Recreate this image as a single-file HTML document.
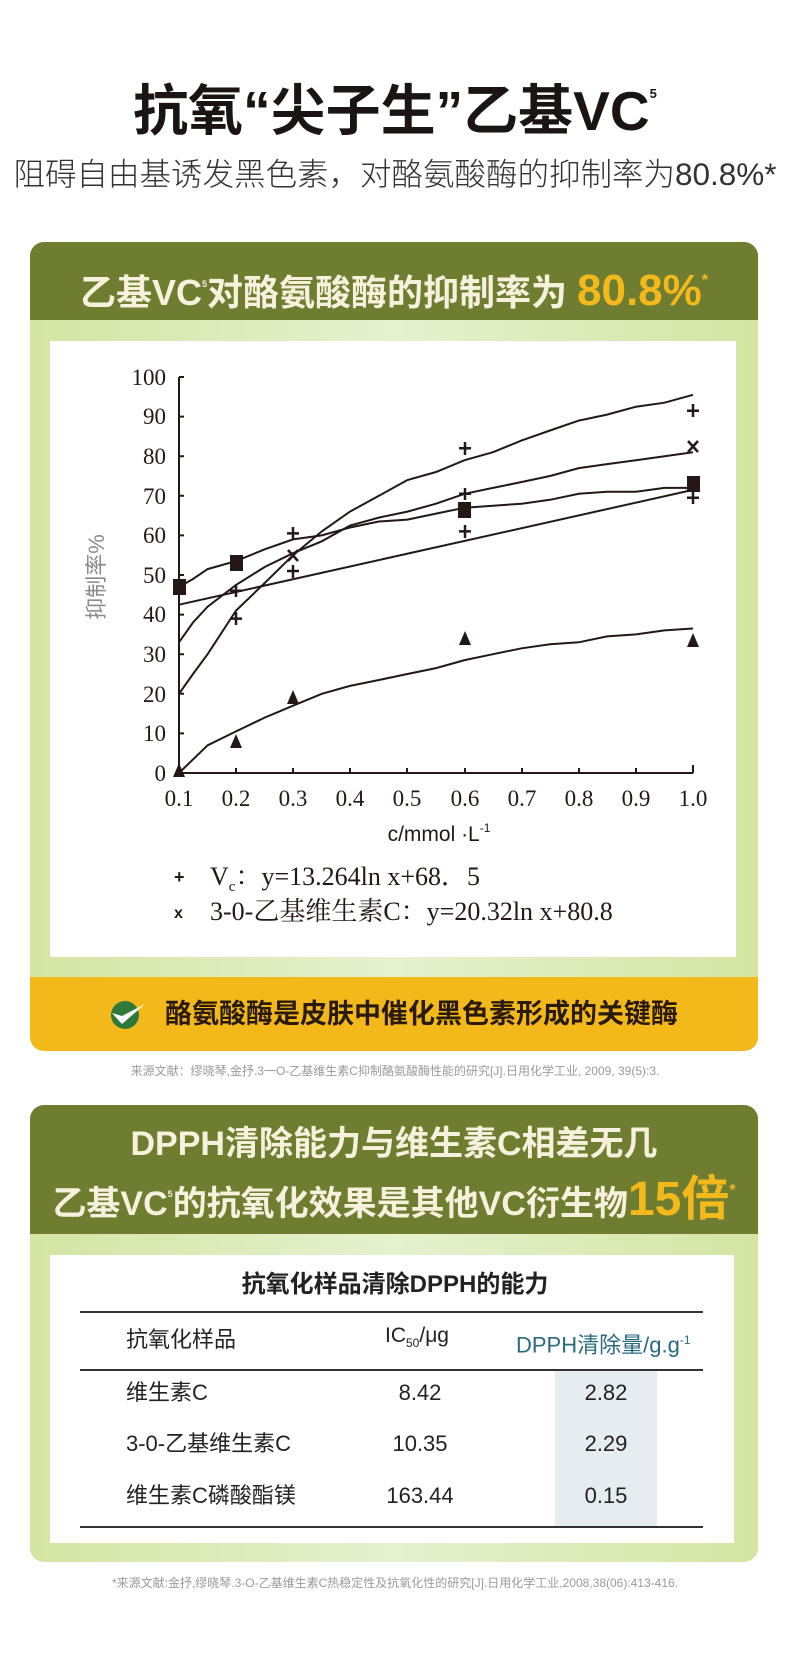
<!DOCTYPE html>
<html><head><meta charset="utf-8">
<style>
*{margin:0;padding:0;box-sizing:border-box}
body{width:790px;height:1665px;background:#fff;position:relative;overflow:hidden;font-family:"Liberation Sans","Noto Sans CJK SC",sans-serif}
.abs{position:absolute}
.c{left:0;width:790px;text-align:center;white-space:nowrap}
</style></head><body>
<div class="abs c" style="top:62px;font-size:55px;font-weight:bold;color:#1a1512;line-height:64px">抗氧“尖子生”乙基VC<sup style="font-size:13px;vertical-align:32px">5</sup></div>
<div class="abs c" style="top:154px;font-size:31.5px;color:#333;line-height:40px;font-weight:300">阻碍自由基诱发黑色素，对酪氨酸酶的抑制率为80.8%*</div>

<!-- box 1 -->
<div class="abs" style="left:30px;top:242px;width:728px;height:809px;border-radius:14px;overflow:hidden;background:linear-gradient(90deg,#d4e5a3,#e6f1cf 50%,#d4e5a3)">
 <div style="height:78px;background:#6f7d31;text-align:center;line-height:78px;color:#f6f0dc;font-size:36px;font-weight:bold;white-space:nowrap">乙基VC<sup style="font-size:9px;vertical-align:18px">5</sup>对酪氨酸酶的抑制率为 <span style="color:#f3b91c;font-size:44px">80.8%</span><sup style="color:#f3b91c;font-size:16px;vertical-align:20px">*</sup></div>
 <div class="abs" style="left:0;top:735px;width:728px;height:74px;background:#f3b91b"></div>
</div>
<div class="abs" style="left:50px;top:341px;width:686px;height:616px;background:#fff"></div>
<svg class="abs" style="left:0;top:0" width="790" height="1100" viewBox="0 0 790 1100">
 <g fill="none" stroke="#231815" stroke-width="2">
  <polyline points="179,377 179,773 693,773"/>
  <path d="M179,377h5M179,416.6h5M179,456.2h5M179,495.8h5M179,535.4h5M179,575h5M179,614.6h5M179,654.2h5M179,693.8h5M179,733.4h5M236,773v-5M293,773v-5M350,773v-5M407,773v-5M465,773v-5M522,773v-5M579,773v-5M636,773v-5M693,773v-8"/>
  <polyline points="179,693.8 193,674 207.6,654.2 236,610.6 264.7,583 293,555.2 321.8,531.4 350,511.6 378.9,495.8 407.4,480 436,472 464.6,460.2 493,452.2 521.7,440.4 550,430.5 578.8,420.6 607,414.6 636,406.7 664.5,402.7 693,394.8"/>
  <polyline points="179,642.3 193,622.5 207.6,606.7 236,584.9 264.7,567 293,553.2 321.8,541.3 350,525.5 378.9,517.6 407.4,511.6 436,503.7 464.6,493.8 493,487.9 521.7,482 550,476 578.8,468.1 607,464.1 636,460.2 664.5,456.2 693,452.2"/>
  <polyline points="179,586.9 193,579 207.6,569.1 236,561.1 264.7,549.3 293,539.4 321.8,535.4 350,527.5 378.9,521.5 407.4,519.6 436,513.6 464.6,507.7 493,505.7 521.7,503.7 550,499.8 578.8,493.8 607,491.8 636,491.8 664.5,487.9 693,487.9"/>
  <line x1="179" y1="604.7" x2="693" y2="489.9"/>
  <polyline points="179,773 207.6,745.3 236,731.4 264.7,717.6 293,705.7 321.8,693.8 350,685.9 378.9,680 407.4,674 436,668.1 464.6,660.1 493,654.2 521.7,648.3 550,644.3 578.8,642.3 607,636.4 636,634.4 664.5,630.4 693,628.5"/>
 </g>
 <g stroke="#231815" stroke-width="2.5">
  <path d="M293,527v13M287,533.4h12 M293,565v13M287,571h12 M236,585v12M230,590.8h12 M236,612v13M230,618.6h12 M465,442v13M459,448.3h12 M465,488v12M459,493.8h12 M465,525v13M459,531.4h12 M693,404v13M687,410.7h12 M693,492v12M687,497.8h12"/>
  <path d="M288,550l10,11M298,550l-10,11 M688,441l10,11M698,441l-10,11"/>
 </g>
 <g fill="#231815">
  <rect x="173" y="579" width="13" height="16"/><rect x="230" y="555" width="13" height="16"/><rect x="458" y="502" width="13" height="16"/><rect x="687" y="476" width="13" height="16"/>
  <path d="M179,763l-6,14h12z M236,734l-6,14h12z M293,690l-6,14h12z M465,631l-6,14h12z M693,633l-6,14h12z"/>
 </g>
 <g font-family="Liberation Serif,serif" font-size="23" fill="#231815" text-anchor="end">
  <text x="166" y="385">100</text><text x="166" y="424">90</text><text x="166" y="464">80</text><text x="166" y="504">70</text><text x="166" y="543">60</text><text x="166" y="583">50</text><text x="166" y="622">40</text><text x="166" y="662">30</text><text x="166" y="702">20</text><text x="166" y="741">10</text><text x="166" y="781">0</text>
 </g>
 <g font-family="Liberation Serif,serif" font-size="23" fill="#231815" text-anchor="middle">
  <text x="179" y="806">0.1</text><text x="236" y="806">0.2</text><text x="293" y="806">0.3</text><text x="350" y="806">0.4</text><text x="407" y="806">0.5</text><text x="465" y="806">0.6</text><text x="522" y="806">0.7</text><text x="579" y="806">0.8</text><text x="636" y="806">0.9</text><text x="693" y="806">1.0</text>
 </g>
 <text x="439" y="841" text-anchor="middle" font-family="Liberation Sans,sans-serif" font-size="21" fill="#231815">c/mmol ·L<tspan font-size="12" dy="-9">-1</tspan></text>
 <text transform="translate(104,577) rotate(-90)" text-anchor="middle" font-family="Liberation Sans,'Noto Sans CJK SC',sans-serif" font-size="22" fill="#8a8a8a">抑制率%</text>
 <g font-family="Liberation Serif,'Noto Serif CJK SC',serif" font-size="26" fill="#231815">
  <text x="174" y="883" font-family="Liberation Sans,sans-serif" font-weight="bold" font-size="18">+</text>
  <text x="210" y="885">V<tspan font-size="15" dy="6">c</tspan><tspan dy="-6">：y=13.264ln x+68．5</tspan></text>
  <text x="174" y="918" font-family="Liberation Sans,sans-serif" font-weight="bold" font-size="16">x</text>
  <text x="210" y="920">3-0-乙基维生素C：y=20.32ln x+80.8</text>
 </g>
 <circle cx="125" cy="1015" r="14" fill="#2f7a3a"/>
 <path d="M112,1013l10,11l23,-20l-23,12z" fill="#fff"/>
</svg>
<div class="abs" style="left:165px;top:996px;font-size:27px;font-weight:bold;color:#2a1a0a;line-height:36px;white-space:nowrap">酪氨酸酶是皮肤中催化黑色素形成的关键酶</div>
<div class="abs c" style="top:1063px;font-size:12px;color:#9a9a9a;line-height:16px">来源文献：缪晓琴,金抒.3一O-乙基维生素C抑制酪氨酸酶性能的研究[J].日用化学工业, 2009, 39(5):3.</div>

<!-- box 2 -->
<div class="abs" style="left:30px;top:1105px;width:728px;height:457px;border-radius:14px;overflow:hidden;background:linear-gradient(90deg,#d4e5a3,#e6f1cf 50%,#d4e5a3)">
 <div style="height:129px;background:#6f7d31;text-align:center;color:#f6f0dc;font-size:34px;font-weight:bold;white-space:nowrap">
  <div style="padding-top:18px;line-height:42px">DPPH清除能力与维生素C相差无几</div>
  <div style="line-height:52px">乙基VC<sup style="font-size:9px;vertical-align:18px">5</sup>的抗氧化效果是其他VC衍生物<span style="color:#f3b91c;font-size:48px">15倍</span><sup style="color:#f3b91c;font-size:16px;vertical-align:20px">*</sup></div>
 </div>
</div>
<div class="abs" style="left:50px;top:1255px;width:684px;height:288px;background:#fff"></div>
<div class="abs c" style="top:1270px;font-size:24px;font-weight:bold;color:#222;line-height:30px">抗氧化样品清除DPPH的能力</div>
<div class="abs" style="left:555px;top:1370px;width:102px;height:157px;background:#e6edf0"></div>
<div class="abs" style="left:80px;top:1311px;width:623px;height:2px;background:#333"></div>
<div class="abs" style="left:80px;top:1369px;width:623px;height:2px;background:#333"></div>
<div class="abs" style="left:80px;top:1526px;width:623px;height:2px;background:#333"></div>
<div class="abs" style="left:126px;top:1326px;font-size:22px;color:#222;line-height:28px">抗氧化样品</div>
<div class="abs" style="left:385px;top:1322px;font-size:21px;color:#222;line-height:28px">IC<sub style="font-size:12px">50</sub>/μg</div>
<div class="abs" style="left:516px;top:1326px;font-size:22px;color:#2a6a80;line-height:28px;white-space:nowrap">DPPH清除量/g.g<sup style="font-size:12px">-1</sup></div>
<div class="abs" style="left:126px;top:1379px;font-size:22px;color:#222;line-height:28px">维生素C</div>
<div class="abs" style="left:126px;top:1430px;font-size:22px;color:#222;line-height:28px">3-0-乙基维生素C</div>
<div class="abs" style="left:126px;top:1482px;font-size:22px;color:#222;line-height:28px">维生素C磷酸酯镁</div>
<div class="abs" style="left:360px;width:120px;text-align:center;top:1379px;font-size:22px;color:#222;line-height:28px">8.42</div>
<div class="abs" style="left:360px;width:120px;text-align:center;top:1430px;font-size:22px;color:#222;line-height:28px">10.35</div>
<div class="abs" style="left:360px;width:120px;text-align:center;top:1482px;font-size:22px;color:#222;line-height:28px">163.44</div>
<div class="abs" style="left:555px;width:102px;text-align:center;top:1379px;font-size:22px;color:#222;line-height:28px">2.82</div>
<div class="abs" style="left:555px;width:102px;text-align:center;top:1430px;font-size:22px;color:#222;line-height:28px">2.29</div>
<div class="abs" style="left:555px;width:102px;text-align:center;top:1482px;font-size:22px;color:#222;line-height:28px">0.15</div>
<div class="abs c" style="top:1575px;font-size:12px;color:#9a9a9a;line-height:16px">*来源文献:金抒,缪晓琴.3-O-乙基维生素C热稳定性及抗氧化性的研究[J].日用化学工业,2008,38(06):413-416.</div>
</body></html>
